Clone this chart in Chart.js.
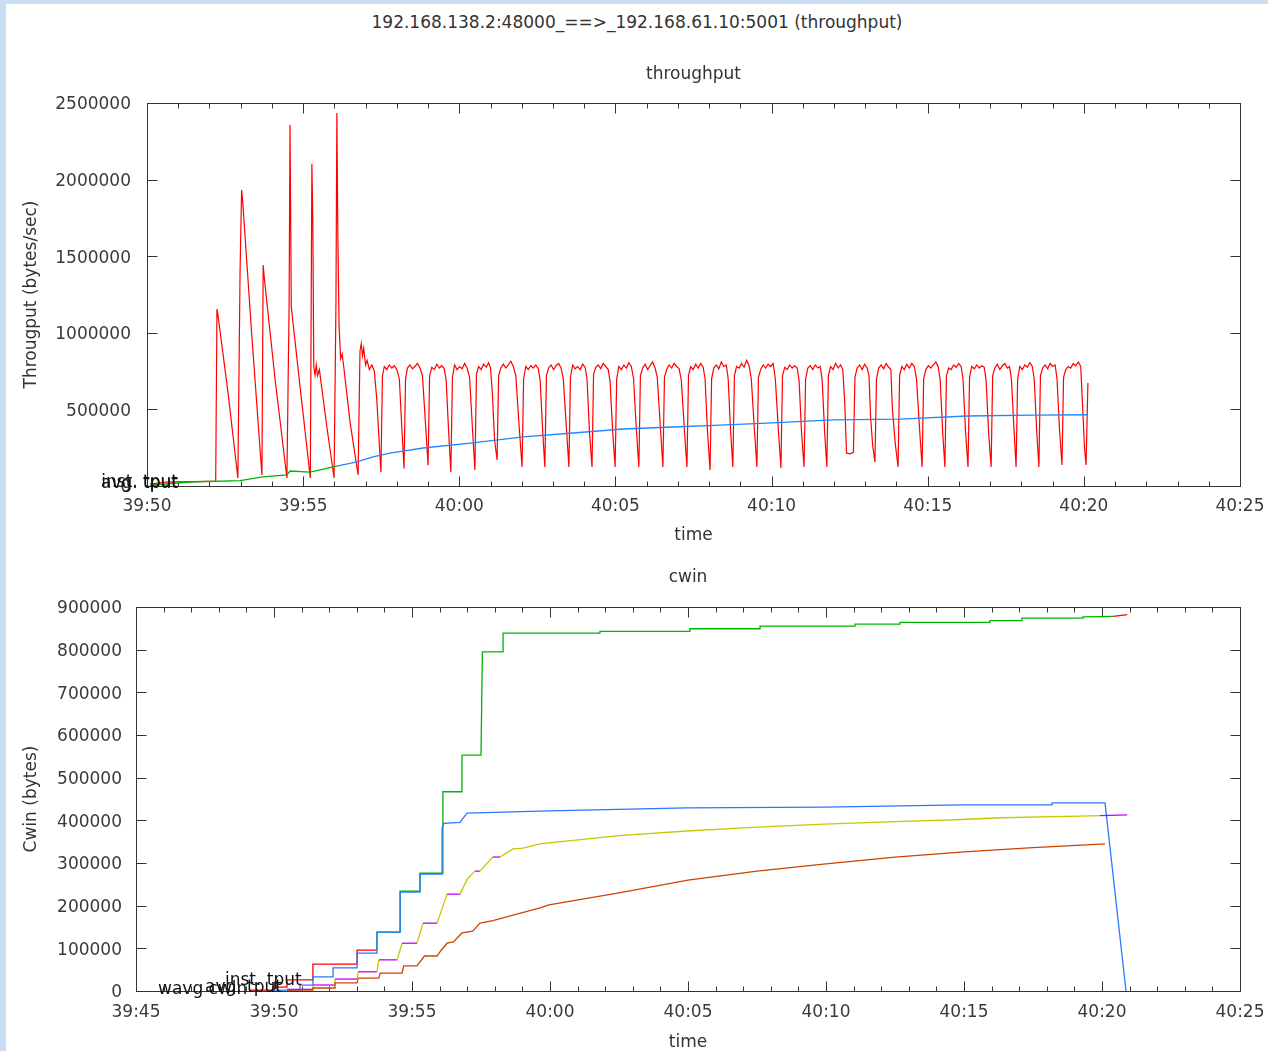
<!DOCTYPE html>
<html>
<head>
<meta charset="utf-8">
<script src="https://cdn.jsdelivr.net/npm/chart.js@4"></script>
<style>
  html, body { margin:0; padding:0; background:#ffffff; }
  #page { position:relative; width:1268px; height:1051px; overflow:hidden; background:#ffffff; }
  #stripTop { position:absolute; left:0; top:0; width:1268px; height:4px; background:#c8dcf2; }
  #stripLeft { position:absolute; left:0; top:0; width:6px; height:1051px; background:#c8dcf2; }
  #header { position:absolute; left:3px; top:12px; width:1268px; text-align:center; font:17px 'DejaVu Sans'; line-height:20px; color:#333333; white-space:pre; }
  #c1 { position:absolute; left:0; top:0; }
  #c2 { position:absolute; left:0; top:550px; }
</style>
</head>
<body>
<div id="page">
  <div id="stripTop"></div>
  <div id="stripLeft"></div>
  <div id="header">192.168.138.2:48000_==&gt;_192.168.61.10:5001 (throughput)</div>
  <canvas id="c1" width="1268" height="550"></canvas>
  <canvas id="c2" width="1268" height="504"></canvas>
</div>
<script>
// ---------------- DATA (times are seconds after 39:00) ----------------
const topXLabels = ['39:50','39:55','40:00','40:05','40:10','40:15','40:20','40:25'];
const bottomXLabels = ['39:45','39:50','39:55','40:00','40:05','40:10','40:15','40:20','40:25'];

// instantaneous throughput (bytes/sec)
const tputTime = [
 50.10,50.60,51.50,52.20,52.24,52.27,52.60,52.91,52.98,53.03,53.06,53.35,53.68,53.72,53.76,54.10,54.48,
 54.55,54.58,54.62,54.90,55.23,55.28,55.31,55.34,55.38,55.42,55.46,55.52,55.75,55.99,56.05,56.08,56.11,
 56.15,56.20,56.25,56.30,56.50,56.76,56.82,56.86,56.90,56.94,57.00,57.05,57.12,57.20,57.28,57.36,57.49,
 57.54,57.60,57.68,57.76,57.84,57.92,58.00,58.08,58.16,58.23,
 58.28,58.34,58.42,58.50,58.58,58.66,58.74,58.82,58.92,59.00,
 59.05,59.12,59.20,59.28,59.36,59.44,59.52,59.58,59.66,59.73,
 59.78,59.85,59.93,60.01,60.09,60.17,60.25,60.33,60.42,60.50,
 60.55,60.62,60.70,60.78,60.86,60.94,61.00,61.06,61.13,61.21,
 61.26,61.33,61.41,61.49,61.57,61.65,61.73,61.81,61.92,62.01,
 62.06,62.13,62.21,62.29,62.37,62.45,62.53,62.59,62.67,62.74,
 62.79,62.86,62.94,63.02,63.10,63.18,63.26,63.33,63.43,63.51,
 63.56,63.63,63.71,63.79,63.87,63.95,64.03,64.09,64.17,64.25,
 64.30,64.37,64.45,64.53,64.61,64.69,64.77,64.83,64.91,64.99,
 65.04,65.11,65.19,65.27,65.35,65.43,65.51,65.58,65.67,65.75,
 65.80,65.87,65.95,66.03,66.11,66.19,66.27,66.34,66.44,66.52,
 66.57,66.64,66.72,66.80,66.88,66.96,67.04,67.11,67.21,67.29,
 67.34,67.41,67.49,67.57,67.65,67.73,67.81,67.87,67.95,68.03,
 68.08,68.15,68.23,68.31,68.39,68.47,68.55,68.61,68.69,68.76,
 68.81,68.88,68.96,69.04,69.12,69.20,69.28,69.35,69.45,69.53,
 69.58,69.65,69.73,69.81,69.89,69.97,70.05,70.12,70.22,70.30,
 70.35,70.42,70.50,70.58,70.66,70.74,70.82,70.88,70.96,71.04,
 71.09,71.16,71.24,71.32,71.40,71.48,71.56,71.62,71.70,71.77,
 71.82,71.89,71.97,72.05,72.13,72.21,72.28,72.34,72.40,72.51,72.62,
 72.67,72.74,72.82,72.90,72.98,73.06,73.12,73.17,73.24,73.31,
 73.36,73.43,73.51,73.59,73.67,73.75,73.82,73.87,73.96,74.05,
 74.10,74.17,74.25,74.33,74.41,74.49,74.57,74.64,74.74,74.82,
 74.87,74.94,75.02,75.10,75.18,75.26,75.34,75.40,75.48,75.55,
 75.60,75.67,75.75,75.83,75.91,75.99,76.07,76.13,76.21,76.29,
 76.34,76.41,76.49,76.57,76.65,76.73,76.81,76.87,76.95,77.03,
 77.08,77.15,77.23,77.31,77.39,77.47,77.55,77.62,77.68,77.76,77.83,
 77.88,77.95,78.03,78.11,78.19,78.27,78.35,78.41,78.49,78.56,
 78.61,78.68,78.76,78.84,78.92,79.00,79.08,79.14,79.22,79.30,
 79.35,79.42,79.50,79.58,79.66,79.74,79.82,79.90,79.96,80.02,80.07,80.13
];
const tputInst = [
 12000,25000,28000,32000,1155000,1120000,600000,52000,1400000,1932000,1870000,1000000,72000,1443000,1350000,700000,52000,
 1170000,2356000,1170000,650000,52000,2102000,1720000,780000,724000,790000,720000,760000,400000,52000,1180000,2435000,1660000,
 1050000,830000,860000,780000,420000,72000,880000,930000,850000,900000,790000,820000,760000,790000,750000,560000,90000,
 720000,780000,760000,790000,770000,785000,760000,700000,380000,115000,
 700000,770000,790000,765000,780000,800000,770000,720000,400000,135000,
 720000,775000,760000,795000,770000,785000,765000,690000,350000,90000,
 710000,790000,760000,780000,765000,800000,770000,710000,380000,104000,
 730000,780000,760000,795000,775000,805000,770000,600000,300000,170000,
 720000,770000,795000,770000,790000,815000,780000,720000,380000,124000,
 700000,780000,760000,785000,770000,790000,765000,690000,360000,124000,
 720000,770000,790000,760000,785000,800000,770000,700000,380000,124000,
 710000,790000,765000,780000,760000,795000,775000,700000,350000,124000,
 730000,775000,790000,765000,800000,780000,760000,680000,360000,124000,
 700000,780000,760000,790000,770000,805000,780000,700000,370000,124000,
 720000,770000,795000,760000,785000,810000,770000,710000,380000,124000,
 710000,760000,790000,770000,800000,780000,765000,690000,360000,124000,
 720000,780000,760000,795000,770000,800000,775000,700000,350000,104000,
 700000,770000,790000,765000,810000,780000,790000,700000,350000,124000,
 720000,780000,770000,800000,775000,820000,785000,700000,370000,124000,
 710000,760000,790000,770000,795000,780000,800000,700000,360000,118000,
 720000,775000,760000,790000,770000,785000,770000,690000,350000,124000,
 700000,770000,785000,760000,790000,770000,780000,690000,350000,124000,
 720000,780000,760000,800000,770000,790000,760000,560000,215000,210000,220000,
 710000,770000,790000,760000,795000,770000,720000,450000,260000,157000,
 700000,770000,790000,765000,800000,775000,760000,500000,280000,124000,
 720000,780000,760000,795000,770000,800000,780000,700000,370000,124000,
 700000,760000,785000,770000,790000,810000,775000,690000,350000,124000,
 720000,770000,760000,790000,775000,800000,780000,700000,360000,124000,
 710000,780000,765000,790000,770000,785000,775000,690000,350000,124000,
 720000,770000,795000,760000,785000,800000,770000,780000,700000,380000,124000,
 700000,780000,760000,790000,775000,805000,780000,700000,360000,124000,
 720000,770000,790000,765000,800000,780000,790000,700000,370000,137000,
 710000,760000,780000,770000,800000,785000,810000,780000,520000,250000,137000,672000
];

// average throughput (bytes/sec)
const avgTime = [50.10,51.38,52.98,53.71,54.48,54.58,55.22,56.08,56.72,57.24,57.78,58.84,60.44,62.04,63.64,65.24,66.84,68.35,69.85,71.97,74.11,76.26,78.37,80.13];
const avgTput = [5000,26000,35000,60000,72000,98000,91000,130000,157000,190000,215000,248000,281000,320000,346000,372000,385000,398000,411000,431000,437000,457000,463000,465000];

// congestion window series (bytes)
const cwinTime = [49.13,49.96,49.96,50.47,50.47,51.41,51.41,53.01,53.01,53.73,53.73,54.57,54.57,55.29,55.29,56.09,56.12,56.81,56.81,57.50,57.55,58.30,58.30,61.81,61.81,65.07,65.07,67.61,67.61,71.05,71.05,72.68,72.68,75.94,75.94,77.10,77.10,79.31,79.31,80.40,80.91];
const cwinVal  = [2000,2000,9000,9000,26000,26000,63000,63000,96000,96000,138000,138000,234000,234000,276000,276000,467000,467000,553000,553000,795000,795000,839000,839000,843000,843000,849000,849000,855000,855000,860000,860000,864000,864000,868000,868000,874000,874000,877000,878000,882000];

const instCwinTime = [49.96,50.94,50.94,51.41,51.41,52.14,52.14,53.01,53.01,53.73,53.73,54.57,54.57,55.29,55.29,56.09,56.09,56.15,56.74,56.99,59.96,64.96,69.96,74.93,78.19,78.19,80.11,80.87];
const instCwinVal  = [2000,2000,14000,14000,33000,33000,54000,54000,89000,89000,138000,138000,232000,232000,274000,274000,382000,393000,395000,417000,422000,429000,431000,436000,436000,441000,441000,0];

const avgCwinTime = [50.47,51.41,51.41,52.21,52.21,53.01,53.05,53.73,53.80,54.46,54.64,55.18,55.40,55.91,56.27,56.74,57.00,57.28,57.46,57.93,58.19,58.66,59.02,59.64,59.96,62.50,64.96,67.50,69.96,72.50,74.93,76.30,79.20,79.93,80.91];
const avgCwinVal  = [4000,4000,14000,14000,28000,28000,45000,45000,73000,73000,112000,112000,159000,159000,227000,227000,262000,281000,281000,314000,314000,333000,335000,345000,347000,364000,375000,384000,391000,397000,402000,406000,410000,411000,413000];

const wavgCwinTime = [50.47,51.41,51.41,52.21,52.21,53.01,53.05,53.80,53.85,54.64,54.70,55.18,55.45,55.91,56.05,56.27,56.50,56.81,57.20,57.46,57.93,58.66,59.64,59.96,62.50,65.00,67.50,70.00,72.50,75.00,77.50,80.11];
const wavgCwinVal  = [2000,2000,7000,7000,19000,19000,30000,30000,42000,42000,59000,59000,82000,82000,95000,112000,115000,136000,140000,159000,165000,178000,195000,202000,230000,260000,281000,298000,314000,326000,336000,345000];

// key labels (overlapping, as in the reference)
const topKeys = ['inst. tput','avg. tput'];
const bottomKeys = ['wavg cwin','avg. tput','inst. tput'];

// ---------------- helpers ----------------
const pts = (xs, ys) => xs.map((x, i) => ({x: x, y: ys[i]}));
Chart.defaults.font.family = "'DejaVu Sans', sans-serif";
Chart.defaults.font.size = 17;
Chart.defaults.color = '#3a3a3a';

const framePlugin = {
  id: 'frame',
  beforeDatasetsDraw(chart) {
    const {ctx, chartArea} = chart;
    const x = chart.scales.x, y = chart.scales.y;
    const L = Math.round(chartArea.left) + 0.5, R = Math.round(chartArea.right) + 0.5;
    const T = Math.round(chartArea.top) + 0.5, B = Math.round(chartArea.bottom) + 0.5;
    ctx.save();
    ctx.strokeStyle = '#333333';
    ctx.lineWidth = 1;
    ctx.strokeRect(L, T, R - L, B - T);
    ctx.beginPath();
    for (let v = x.min; v <= x.max + 1e-9; v += 1) {
      const px = Math.round(x.getPixelForValue(v)) + 0.5;
      const len = (Math.round(v) % 5 === 0) ? 10 : 5;
      ctx.moveTo(px, B); ctx.lineTo(px, B - len);
      ctx.moveTo(px, T); ctx.lineTo(px, T + len);
    }
    y.ticks.forEach(t => {
      const py = Math.round(y.getPixelForValue(t.value)) + 0.5;
      ctx.moveTo(L, py); ctx.lineTo(L + 10, py);
      ctx.moveTo(R, py); ctx.lineTo(R - 10, py);
    });
    ctx.stroke();
    ctx.restore();
  }
};

const keyPlugin = {
  id: 'keys',
  afterDatasetsDraw(chart, args, opts) {
    const ctx = chart.ctx;
    ctx.save();
    ctx.font = "17px 'DejaVu Sans'";
    ctx.fillStyle = '#111111';
    ctx.textBaseline = 'middle';
    (opts.items || []).forEach(it => {
      ctx.textAlign = it.align;
      ctx.fillText(it.text, it.x, it.y);
    });
    ctx.restore();
  }
};

function axisX(min, max, labels, tickPad, titlePadBottom, height) {
  return {
    type: 'linear', min: min, max: max,
    grid: { display: false, drawTicks: false },
    border: { display: false },
    ticks: { stepSize: 5, padding: tickPad, color: '#3a3a3a', maxRotation: 0, autoSkip: false,
             callback: (v, i) => labels[i] },
    title: { display: true, text: 'time', color: '#333333', padding: { top: 0, bottom: titlePadBottom } },
    afterFit: s => { s.height = height; s.paddingLeft = 0; s.paddingRight = 0; }
  };
}
function axisY(max, step, title, tickPad, width) {
  return {
    type: 'linear', min: 0, max: max,
    grid: { display: false, drawTicks: false },
    border: { display: false },
    ticks: { stepSize: step, padding: tickPad, color: '#3a3a3a', labelOffset: 2, callback: v => String(v) },
    title: { display: true, text: title, color: '#333333', padding: { top: 21, bottom: 0 } },
    afterFit: s => { s.width = width; }
  };
}

const RED = '#ff0000', GREEN = '#00b400', BLUE = '#1e88ff', BLUE2 = '#2a78ff',
      YELLOW = '#c8c800', MAGENTA = '#c000ff', ORANGE = '#cc4400';

// ---------------- top chart: throughput ----------------
new Chart(document.getElementById('c1'), {
  type: 'line',
  data: {
    datasets: [
      { label: 'avg. tput', data: pts(avgTime, avgTput), borderWidth: 1.3, pointRadius: 0, tension: 0,
        borderColor: BLUE,
        segment: { borderColor: c => (c.p0.parsed.x < 55.8 ? GREEN : BLUE) } },
      { label: 'inst. tput', data: pts(tputTime, tputInst), borderColor: RED, borderWidth: 1.2, pointRadius: 0, tension: 0 }
    ]
  },
  options: {
    responsive: false, animation: false, devicePixelRatio: 1,
    layout: { padding: { left: 0, right: 28, top: 0, bottom: 0 } },
    plugins: {
      legend: { display: false },
      tooltip: { enabled: false },
      title: { display: true, text: 'throughput', fullSize: false, color: '#333333',
               font: { size: 17, weight: 'normal' }, padding: { top: 64, bottom: 18.6 } },
      keys: { items: [
        { text: topKeys[0], x: 178, y: 483, align: 'right' },
        { text: topKeys[1], x: 178, y: 484, align: 'right' }
      ] }
    },
    scales: {
      x: axisX(50, 85, topXLabels, 10, 3.8, 64),
      y: axisY(2500000, 500000, 'Througput (bytes/sec)', 16, 147)
    }
  },
  plugins: [framePlugin, keyPlugin]
});

// ---------------- bottom chart: cwin ----------------
new Chart(document.getElementById('c2'), {
  type: 'line',
  data: {
    datasets: [
      { label: 'wavg cwin', data: pts(wavgCwinTime, wavgCwinVal), borderColor: ORANGE, borderWidth: 1.3, pointRadius: 0, tension: 0 },
      { label: 'avg. cwin', data: pts(avgCwinTime, avgCwinVal), borderColor: YELLOW, borderWidth: 1.3, pointRadius: 0, tension: 0,
        segment: { borderColor: c => ((c.p0.parsed.y === c.p1.parsed.y && c.p0.parsed.x < 58.5) || c.p0.parsed.x >= 79.9 ? MAGENTA : YELLOW) } },
      { label: 'inst. cwin', data: pts(instCwinTime, instCwinVal), borderColor: BLUE2, borderWidth: 1.3, pointRadius: 0, tension: 0 },
      { label: 'cwin', data: pts(cwinTime, cwinVal), borderColor: GREEN, borderWidth: 1.3, pointRadius: 0, tension: 0,
        segment: { borderColor: c => (c.p0.parsed.x < 53.7 || c.p0.parsed.x >= 80.0 ? RED : GREEN) } }
    ]
  },
  options: {
    responsive: false, animation: false, devicePixelRatio: 1,
    layout: { padding: { left: 0, right: 28, top: 0, bottom: 0 } },
    plugins: {
      legend: { display: false },
      tooltip: { enabled: false },
      title: { display: true, text: 'cwin', fullSize: false, color: '#333333',
               font: { size: 17, weight: 'normal' }, padding: { top: 17, bottom: 19.6 } },
      keys: { items: [
        { text: bottomKeys[0], x: 158, y: 440, align: 'left' },
        { text: bottomKeys[1], x: 205, y: 438, align: 'left' },
        { text: bottomKeys[2], x: 225, y: 431, align: 'left' }
      ] }
    },
    scales: {
      x: axisX(45, 85, bottomXLabels, 11, 0.8, 63),
      y: axisY(900000, 100000, 'Cwin (bytes)', 14, 136)
    }
  },
  plugins: [framePlugin, keyPlugin]
});
</script>
</body>
</html>
